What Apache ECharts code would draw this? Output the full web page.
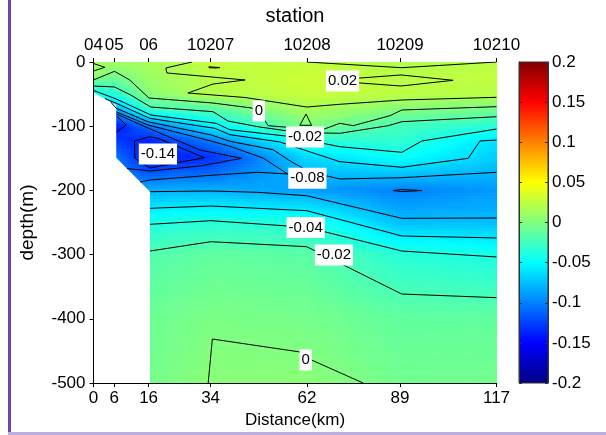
<!DOCTYPE html>
<html>
<head>
<meta charset="utf-8">
<script src="https://cdn.jsdelivr.net/npm/echarts@6/dist/echarts.min.js"></script>
<style>
html, body { margin: 0; padding: 0; background: #fff; }
#chart { width: 606px; height: 435px; }
</style>
</head>
<body>
<div id="chart"></div>
<script>
// stations along the section (km) and their short names
var stations = [0, 6, 16, 34, 62, 89, 117]
var stationNames = ['04', '05', '06', '10207', '10208', '10209', '10210']
var depths = [0, -20, -50, -75, -100, -125, -150, -200, -250, -300, -400, -500]

// values per station, top to bottom (null = below the sea floor)
var st04 = [0.016, 0.008, -0.05, null, null, null, null, null, null, null, null, null]
var st05 = [0.012, -0.002, -0.035, -0.09, -0.145, -0.125, -0.1, null, null, null, null, null]
var st06 = [0.015, 0.012, 0.004, -0.03, -0.105, -0.14, -0.145, -0.08, -0.04, -0.018, -0.008, -0.005]
var st10207 = [0.028, 0.022, 0.021, -0.018, -0.055, -0.105, -0.132, -0.08, -0.035, -0.012, -0.002, 0.004]
var st10208 = [0.025, 0.03, 0.028, 0.016, 0.0, -0.038, -0.066, -0.088, -0.037, -0.015, -0.004, 0.004]
var st10209 = [0.019, 0.022, 0.024, 0.0, -0.024, -0.033, -0.048, -0.1, -0.075, -0.035, -0.012, -0.006]
var st10210 = [0.022, 0.026, 0.022, -0.006, -0.035, -0.063, -0.07, -0.09, -0.075, -0.041, -0.012, -0.005]
var columns = [st04, st05, st06, st10207, st10208, st10209, st10210]

// edge of the sampled area over the slope
var dataEdge = [[0, -48], [6.6, -67], [6.6, -149], [16.4, -202], [16.4, -500]]

var c002a = [[0, -2.3], [3.3, -8.3], [0, -14.0]]
var c002b = [[28.6, 0], [21.0, -9.3], [21.3, -17.1], [44.0, -28.0], [34.7, -34.3], [27.4, -48.3], [44.0, -55.3], [61.9, -70.1], [71.5, -65.9], [89.5, -59.2], [117, -55.0]]
var c002c = [[33.5, -7.5], [35.3, -8.1], [36.7, -8.7], [35.3, -9.4], [33.5, -8.8], [33.5, -7.5]]
var c002d = [[73.0, -27.3], [77.4, -24.9], [89.3, -20.2], [104.4, -28.5], [89.3, -37.4], [77.4, -32.7], [73.0, -28.8], [73.0, -27.3]]
var c002e = [[61.9, 0], [89.5, -8.9], [117, 0]]
var c000a = [[0, -28.0], [6.1, -14.5], [10.5, -28.0], [16.1, -56.1], [34.7, -63.9], [46.0, -71.7], [48.9, -84.1], [50.7, -99.2], [57.0, -102.0], [66.3, -105.9], [71.5, -95.5], [75.4, -99.2], [86.1, -83.6], [89.5, -74.8], [117, -69.6]]
var c000b = [[33.3, -500], [34.5, -431.5], [60.0, -451.7], [63.3, -464.2], [78.3, -500]]
var c000c = [[59.9, -98.6], [61.7, -81.0], [63.3, -98.6], [59.9, -98.6]]
var cm002a = [[0, -37.4], [6.1, -38.9], [10.8, -51.4], [16.6, -70.1], [34.7, -77.4], [39.0, -91.9], [47.7, -100.8], [56.4, -107.5], [67.2, -110.6], [71.5, -111.1], [85.6, -99.2], [89.5, -93.0], [117, -85.2]]
var cm002b = [[16.4, -294.4], [34.1, -279.9], [61.9, -287.7], [89.5, -361.4], [117, -367.1]]
var cm004a = [[0, -44.4], [6.6, -57.6], [16.7, -82.6], [35.6, -95.5], [39.6, -105.5], [56.4, -115.7], [71.5, -131.9], [89.5, -140.7], [95.3, -123.1], [117, -104.4]]
var cm004b = [[16.4, -252.8], [34.1, -247.2], [61.9, -257.5], [89.5, -294.4], [117, -303.7]]
var cm006a = [[3.3, -56.9], [6.6, -64.3], [16.3, -87.7], [35.2, -103.3], [39.6, -113.2], [54.1, -124.6], [71.5, -155.3], [89.5, -164.0], [108.8, -150.0], [112.2, -123.1], [117, -121.5]]
var cm006b = [[16.4, -227.9], [34.1, -224.3], [61.9, -231.6], [89.5, -271.0], [117, -274.1]]
var cm008a = [[5.0, -62.3], [6.6, -72.1], [15.8, -93.0], [34.2, -113.7], [39.6, -123.5], [52.1, -136.6], [57.6, -155.8], [62.8, -171.3], [71.5, -182.2], [89.5, -180.2], [117, -171.8]]
var cm008b = [[16.4, -202.0], [34.1, -200.9], [47.7, -203.0], [61.9, -208.3], [89.5, -243.5], [117, -243.0]]
var cm010a = [[6.7, -77.9], [15.8, -98.1], [34.1, -123.1], [39.6, -131.3], [49.2, -149.5], [56.4, -174.5], [47.7, -171.8], [35.2, -176.0], [16.3, -183.8], [13.5, -186.9]]
var cm010b = [[87.0, -200.3], [89.5, -198.6], [95.3, -200.3], [89.5, -201.8], [87.0, -200.3]]
var cm012 = [[6.7, -81.0], [15.8, -102.8], [30.9, -137.1], [43.0, -150.0], [30.9, -162.0], [16.4, -169.8], [9.7, -165.9]]
var cm014a = [[6.7, -84.1], [9.5, -98.1], [6.7, -109.0]]
var cm014b = [[11.9, -123.1], [16.3, -116.4], [19.3, -119.9], [32.2, -149.1], [23.9, -157.3], [16.4, -165.1], [12.0, -149.5], [11.9, -123.1]]
var contourLines = [c002a, c002b, c002c, c002d, c002e, c000a, c000b, c000c, cm002a, cm002b,
  cm004a, cm004b, cm006a, cm006b, cm008a, cm008b, cm010a, cm010b, cm012, cm014a, cm014b]

var labelPoints = [[72.3, -29.6], [48.0, -76.3], [61.4, -116.8], [18.7, -143.3], [62.1, -181.2], [61.6, -257.8], [69.8, -300.6], [61.6, -464.2]]
var labelTexts = ['0.02', '0', '-0.02', '-0.14', '-0.08', '-0.04', '-0.02', '0']

// colour scale
var cMin = -0.2
var cMax = 0.2
var jetColors = ['#000080', '#0000ff', '#0080ff', '#00ffff', '#80ff80', '#ffff00', '#ff8000', '#ff0000', '#800000']

var font = 'Liberation Sans, Arial, sans-serif'

function hexRgb (h) {
  return [parseInt(h.substr(1, 2), 16), parseInt(h.substr(3, 2), 16), parseInt(h.substr(5, 2), 16)]
}
var jetRgb = jetColors.map(hexRgb)

function jet (v) {
  var t = (v - cMin) / (cMax - cMin)
  t = Math.max(0, Math.min(1, t)) * (jetRgb.length - 1)
  var k = Math.min(Math.floor(t), jetRgb.length - 2)
  var f = t - k
  var a = jetRgb[k], b = jetRgb[k + 1]
  return 'rgb(' + Math.round(a[0] + (b[0] - a[0]) * f) + ',' +
    Math.round(a[1] + (b[1] - a[1]) * f) + ',' +
    Math.round(a[2] + (b[2] - a[2]) * f) + ')'
}

function valueAt (i, j) {
  var col = columns[i]
  while (col[j] == null && j > 0) j--
  return col[j]
}

var cells = []
for (var i = 0; i < stations.length - 1; i++) {
  for (var j = 0; j < depths.length - 1; j++) {
    cells.push([stations[i], depths[j], stations[i + 1], depths[j + 1], i, j])
  }
}

function shadeCell (params, api) {
  var i = api.value(4), j = api.value(5)
  var p0 = api.coord([api.value(0), api.value(1)])
  var p1 = api.coord([api.value(2), api.value(3)])
  var v00 = valueAt(i, j), v10 = valueAt(i + 1, j)
  var v01 = valueAt(i, j + 1), v11 = valueAt(i + 1, j + 1)
  var w = p1[0] - p0[0], h = p1[1] - p0[1]
  var nx = Math.max(1, Math.ceil(w / 3)), ny = Math.max(1, Math.ceil(h / 3))
  var kids = []
  for (var a = 0; a < nx; a++) {
    for (var b = 0; b < ny; b++) {
      var u = (a + 0.5) / nx, t = (b + 0.5) / ny
      var v = v00 * (1 - u) * (1 - t) + v10 * u * (1 - t) + v01 * (1 - u) * t + v11 * u * t
      kids.push({
        type: 'rect',
        shape: {x: p0[0] + a * w / nx, y: p0[1] + b * h / ny, width: w / nx + 0.6, height: h / ny + 0.6},
        style: {fill: jet(v)}
      })
    }
  }
  return {type: 'group', children: kids, silent: true}
}

function maskShape (params, api) {
  var pts = dataEdge.map(function (p) { return api.coord(p) })
  pts.push(api.coord([0, -500]))
  return {type: 'polygon', shape: {points: pts}, style: {fill: '#fff'}, silent: true}
}

function colorbarItem (params, api) {
  var lo = api.coord([0, api.value(0)])
  var hi = api.coord([1, api.value(1)])
  var stops = jetColors.map(function (c, k) { return {offset: k / (jetColors.length - 1), color: c} })
  return {
    type: 'rect',
    shape: {x: lo[0], y: hi[1], width: hi[0] - lo[0], height: lo[1] - hi[1]},
    style: {fill: {type: 'linear', x: 0, y: 1, x2: 0, y2: 0, colorStops: stops}, stroke: '#333', lineWidth: 1}
  }
}

var chart = echarts.init(document.getElementById('chart'))

var series = [{
  type: 'custom',
  renderItem: shadeCell,
  data: cells,
  encode: {x: [0, 2], y: [1, 3]},
  z: 1,
  animation: false
}, {
  type: 'custom',
  renderItem: maskShape,
  data: [[0, -500]],
  z: 2,
  animation: false
}]

contourLines.forEach(function (line) {
  series.push({
    type: 'line',
    data: line,
    symbol: 'none',
    lineStyle: {color: '#000', width: 1},
    z: 4,
    animation: false
  })
})

series.push({
  type: 'scatter',
  data: labelPoints.map(function (p, k) { return {value: p, name: labelTexts[k]} }),
  symbolSize: 0,
  z: 6,
  itemStyle: {opacity: 1},
  emphasis: {disabled: true},
  label: {
    show: true,
    position: 'inside',
    formatter: '{b}',
    color: '#000',
    opacity: 1,
    fontSize: 15,
    fontFamily: font,
    backgroundColor: '#ffffff',
    padding: [2, 2],
    lineHeight: 17
  },
  animation: false
})

series.push({
  type: 'custom',
  renderItem: colorbarItem,
  xAxisIndex: 2,
  yAxisIndex: 1,
  data: [[cMin, cMax]],
  encode: {y: [0, 1]},
  z: 1,
  animation: false
})

var axisText = {color: '#000', fontSize: 17, fontFamily: font}

chart.setOption({
  backgroundColor: '#fff',
  animation: false,
  graphic: [
    {type: 'rect', shape: {x: 8, y: 0, width: 3, height: 435}, style: {fill: '#7440b0'}},
    {type: 'rect', shape: {x: 8, y: 432, width: 598, height: 3}, style: {fill: '#bcaee0'}}
  ],
  grid: [
    {left: 93.5, right: 109.5, top: 62, bottom: 52, containLabel: false, outerBoundsMode: 'none'},
    {left: 519, width: 29, top: 62, bottom: 52, containLabel: false, outerBoundsMode: 'none'}
  ],
  xAxis: [{
    type: 'value',
    gridIndex: 0,
    position: 'bottom',
    min: 0,
    max: 117,
    z: 10,
    axisLine: {onZero: false, lineStyle: {color: '#000', width: 1}},
    axisTick: {customValues: stations, length: 4, lineStyle: {color: '#000'}},
    axisLabel: Object.assign({customValues: stations, margin: 7}, axisText),
    splitLine: {show: false},
    name: 'Distance(km)',
    nameLocation: 'middle',
    nameGap: 25,
    nameTextStyle: {color: '#000', fontSize: 17, fontFamily: font}
  }, {
    type: 'value',
    gridIndex: 0,
    position: 'top',
    min: 0,
    max: 117,
    z: 10,
    axisLine: {show: false, onZero: false},
    axisTick: {show: true, customValues: stations, length: 4, lineStyle: {color: '#000'}},
    axisLabel: Object.assign({
      customValues: stations,
      margin: 8,
      formatter: function (v) { return stationNames[stations.indexOf(v)] }
    }, axisText),
    splitLine: {show: false},
    name: 'station',
    nameLocation: 'middle',
    nameGap: 36,
    nameTextStyle: {color: '#000', fontSize: 20, fontFamily: font}
  }, {
    type: 'value',
    gridIndex: 1,
    min: 0,
    max: 1,
    show: false
  }],
  yAxis: [{
    type: 'value',
    gridIndex: 0,
    min: -500,
    max: 0,
    interval: 100,
    z: 10,
    axisLine: {show: true, onZero: false, lineStyle: {color: '#000', width: 1}},
    axisTick: {length: 4, lineStyle: {color: '#000'}},
    axisLabel: Object.assign({margin: 8}, axisText),
    splitLine: {show: false},
    name: 'depth(m)',
    nameLocation: 'middle',
    nameGap: 56,
    nameTextStyle: {color: '#000', fontSize: 19, fontFamily: font}
  }, {
    type: 'value',
    gridIndex: 1,
    position: 'right',
    min: cMin,
    max: cMax,
    interval: 0.05,
    z: 10,
    axisLine: {show: true, onZero: false, lineStyle: {color: '#333'}},
    axisTick: {inside: true, length: 3, lineStyle: {color: '#333'}},
    axisLabel: Object.assign({margin: 4}, axisText),
    splitLine: {show: false}
  }, {
    type: 'value',
    gridIndex: 1,
    position: 'left',
    min: cMin,
    max: cMax,
    interval: 0.05,
    z: 10,
    axisLine: {show: true, onZero: false, lineStyle: {color: '#333'}},
    axisTick: {inside: true, length: 3, lineStyle: {color: '#333'}},
    axisLabel: {show: false},
    splitLine: {show: false}
  }],
  series: series
})
</script>
</body>
</html>
